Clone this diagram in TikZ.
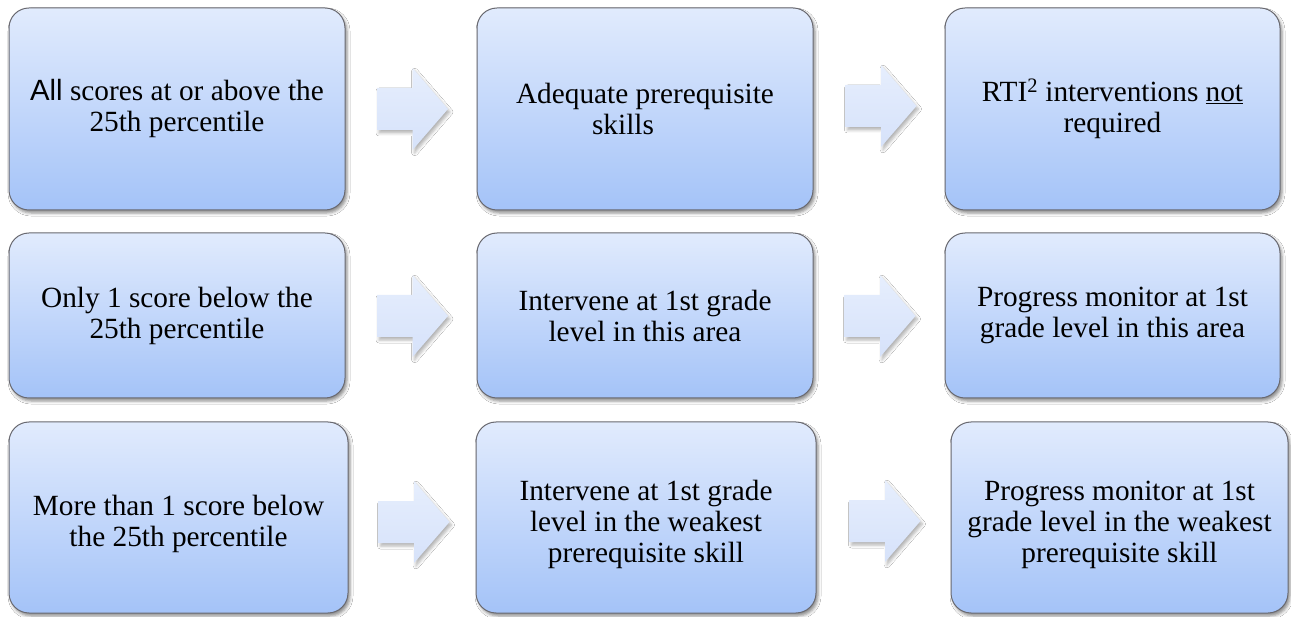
\documentclass[tikz,border=0pt]{standalone}
\usepackage{fontspec}
\setmainfont{Liberation Serif}
\setsansfont{Liberation Sans}
\newfontfamily\stageserif{Liberation Serif}
\newfontfamily\stagesans{Liberation Sans}
\usetikzlibrary{shadows.blur}

\definecolor{boxtop}{RGB}{225,235,253}
\definecolor{boxbot}{RGB}{164,195,248}
\definecolor{boxline}{RGB}{105,105,112}
\definecolor{arrtop}{RGB}{230,238,253}
\definecolor{arrbot}{RGB}{214,226,250}

\newcommand{\lowerstrut}{\rule{0pt}{34pt}}

\begin{document}
\begin{tikzpicture}[x=1pt,y=-1pt]
\tikzset{
  stage/.style={rectangle, rounded corners=20pt, draw=boxline, line width=1pt,
    top color=boxtop, bottom color=boxbot, align=center, inner sep=0pt,
    font=\stageserif\fontsize{29.3}{31}\selectfont,
    blur shadow={shadow xshift=2pt, shadow yshift=-3pt,
      shadow blur radius=3pt, shadow opacity=45}},
  flow/.style={draw=none, top color=arrtop, bottom color=arrbot,
    blur shadow={shadow xshift=2pt, shadow yshift=-3pt,
      shadow blur radius=3pt, shadow opacity=30}}
}
\fill[white] (0,0) rectangle (1291,617);
\useasboundingbox (0,0) rectangle (1291,617);

% first row
\node[stage, minimum width=336pt, minimum height=202pt] (a1) at (177,109)
  {{\stagesans All} scores at or above the\\25th percentile};
\node[stage, minimum width=336pt, minimum height=202pt] (a2) at (645,109)
  {Adequate prerequisite\\skills\hspace*{44pt}};
\node[stage, minimum width=335pt, minimum height=202pt] (a3) at (1112.5,109)
  {RTI\textsuperscript{2} interventions \underline{not}\\required};

% second row
\node[stage, minimum width=336pt, minimum height=165pt] (b1) at (177,315.5)
  {Only 1 score below the\\25th percentile};
\node[stage, minimum width=336pt, minimum height=165pt] (b2) at (645,315.5)
  {Intervene at 1st grade\\level in this area};
\node[stage, minimum width=335pt, minimum height=165pt] (b3) at (1112.5,315.5)
  {Progress monitor at 1st\\grade level in this area};

% third row (text sits slightly low in these boxes)
\node[stage, minimum width=339pt, minimum height=191pt] (c1) at (178.5,517.5)
  {\lowerstrut More than 1 score below\\the 25th percentile};
\node[stage, minimum width=340pt, minimum height=191pt] (c2) at (646,517.5)
  {\lowerstrut Intervene at 1st grade\\level in the weakest\\prerequisite skill};
\node[stage, minimum width=337pt, minimum height=191pt] (c3) at (1119.5,517.5)
  {\lowerstrut Progress monitor at 1st\\grade level in the weakest\\prerequisite skill};

% block arrows between the stages
\coordinate (fa1) at (412.5,109);
\coordinate (fa2) at (881,106);
\coordinate (fb1) at (412.5,316);
\coordinate (fb2) at (880,316);
\coordinate (fc1) at (414,522);
\coordinate (fc2) at (885,521);
\foreach \c in {fa1,fa2,fb1,fb2,fc1,fc2}
  \path[flow, shift={(\c)}]
    (-35.5,-21) -- (0,-21) -- (0,-41) -- (35.5,0) -- (0,41) -- (0,21)
    -- (-35.5,21) -- cycle;
\end{tikzpicture}
\end{document}
